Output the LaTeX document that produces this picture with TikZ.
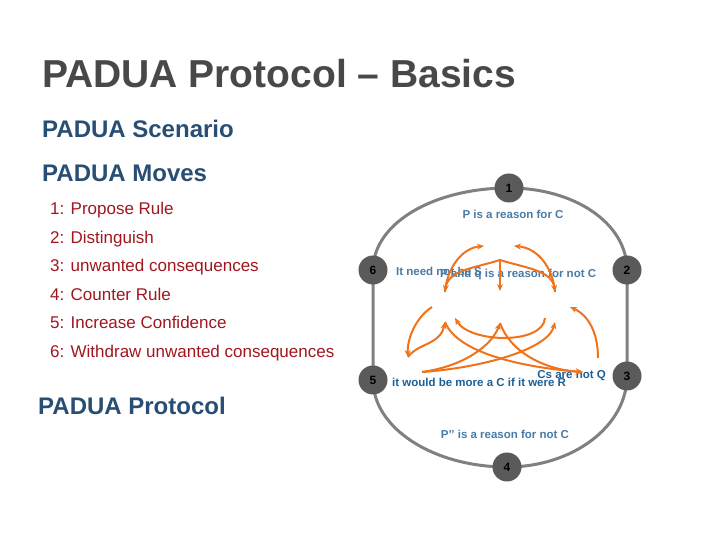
\documentclass[tikz,border=0pt]{standalone}
\usepackage{fontspec}
\setmainfont{Liberation Sans}
\usetikzlibrary{arrows.meta, positioning, backgrounds}
\definecolor{mytitle}{RGB}{72,72,72}
\definecolor{myblue}{RGB}{40,78,115}
\definecolor{myred}{RGB}{160,22,30}
\definecolor{mycircle}{RGB}{90,90,90}
\definecolor{myring}{RGB}{128,128,128}
\definecolor{myclaim}{RGB}{74,122,165}
\definecolor{mydeep}{RGB}{28,96,150}
\definecolor{myorange}{RGB}{240,115,25}
\tikzset{
  titletext/.style={anchor=base west, inner sep=0pt, text=mytitle,
    font=\bfseries\fontsize{39}{39}\selectfont},
  headtext/.style={anchor=base west, inner sep=0pt, text=myblue,
    font=\bfseries\fontsize{24}{24}\selectfont},
  movetext/.style={anchor=base west, inner sep=0pt, text=myred,
    font=\fontsize{17}{17}\selectfont},
  movenode/.style={circle, fill=mycircle, minimum size=29pt, inner sep=0pt,
    font=\bfseries\fontsize{12}{12}\selectfont, text=black},
  ring/.style={line width=3pt, color=myring},
  claim/.style={inner sep=0pt, text=myclaim,
    font=\bfseries\fontsize{11.5}{11.5}\selectfont},
  deepclaim/.style={claim, text=mydeep},
  attack/.style={-{Stealth[length=7pt, width=6pt]}, line width=2pt, color=myorange}
}
\begin{document}
\begin{tikzpicture}[x=1pt, y=1pt]
  \useasboundingbox (0,0) rectangle (720,540);
  % headings
  \node[titletext] (title) at (42,452) {PADUA Protocol – Basics};
  \node[headtext] (scen) at (42,402) {PADUA Scenario};
  \node[headtext] (moves) at (42,358) {PADUA Moves};
  \node[headtext] (proto) at (38,125) {PADUA Protocol};
  % list of moves
  \node[movetext] (mv1) at (50,325) {1: Propose Rule};
  \node[movetext] (mv2) at (50,296) {2: Distinguish};
  \node[movetext] (mv3) at (50,268) {3: unwanted consequences};
  \node[movetext] (mv4) at (50,239) {4: Counter Rule};
  \node[movetext] (mv5) at (50,211) {5: Increase Confidence};
  \node[movetext] (mv6) at (50,182) {6: Withdraw unwanted consequences};
  % move circles
  \node[movenode] (m1) at (509,352) {1};
  \node[movenode] (m2) at (627,270) {2};
  \node[movenode] (m3) at (627,164) {3};
  \node[movenode] (m4) at (507,73) {4};
  \node[movenode] (m5) at (373,160) {5};
  \node[movenode] (m6) at (373,270) {6};
  % ring
  \begin{scope}[on background layer]
    \draw[ring] (m6.center) .. controls +(0,47) and +(-75,0) .. (m1.center)
      .. controls +(65,0) and +(0,47) .. (m2.center) -- (m3.center);
    \draw[ring] (m3.center) .. controls +(0,-50) and +(66,0) .. (m4.center)
      .. controls +(-74,0) and +(0,-48) .. (m5.center) -- (m6.center);
  \end{scope}
  % claims
  \node[claim] (c1) at (513,326) {P is a reason for C};
  \node[claim, anchor=west] (c6) at (396,269) {It need not be S};
  \node[claim, anchor=west] (c2) at (440,265) {P and q is a reason for not C};
  \node[deepclaim, anchor=east] (c3) at (606,164) {Cs are not Q};
  \node[deepclaim, anchor=west] (c5) at (392,158) {it would be more a C if it were R};
  \node[claim] (c4) at (505,106) {P’’ is a reason for not C};
  % attack points
  \coordinate (tp) at (500,280);
  \coordinate (tl) at (445,248);
  \coordinate (tm) at (500,249);
  \coordinate (tr) at (555,248);
  \coordinate (tul) at (484,294);
  \coordinate (tur) at (514,294);
  \coordinate (ba) at (432,233);
  \coordinate (bb) at (408,183);
  \coordinate (bc) at (445,218);
  \coordinate (bd) at (545,222);
  \coordinate (be) at (455,222);
  \coordinate (bf) at (422,168);
  \coordinate (bg) at (500,217);
  \coordinate (bh) at (583,168);
  \coordinate (bi) at (555,218);
  \coordinate (bj) at (598,182);
  \coordinate (bk) at (570,233);
  % attacks, upper group
  \draw[attack] (tp) .. controls (475,272) and (448,270) .. (tl);
  \draw[attack] (tp) .. controls (525,272) and (552,270) .. (tr);
  \draw[attack] (tp) -- (tm);
  \draw[attack] (tl) .. controls (447,272) and (462,292) .. (tul);
  \draw[attack] (tr) .. controls (553,272) and (538,292) .. (tur);
  % attacks, lower group
  \draw[attack] (ba) .. controls (415,222) and (407,200) .. (bb);
  \draw[attack] (bb) .. controls (418,197) and (440,195) .. (bc);
  \draw[attack] (bd) .. controls (543,195) and (470,197) .. (be);
  \draw[attack] (bf) .. controls (465,174) and (492,195) .. (bg);
  \draw[attack] (bg) .. controls (510,188) and (545,170) .. (bh);
  \draw[attack] (bc) .. controls (458,185) and (530,172) .. (bh);
  \draw[attack] (bf) .. controls (480,172) and (548,190) .. (bi);
  \draw[attack] (bj) .. controls (598,208) and (588,225) .. (bk);
\end{tikzpicture}
\end{document}
